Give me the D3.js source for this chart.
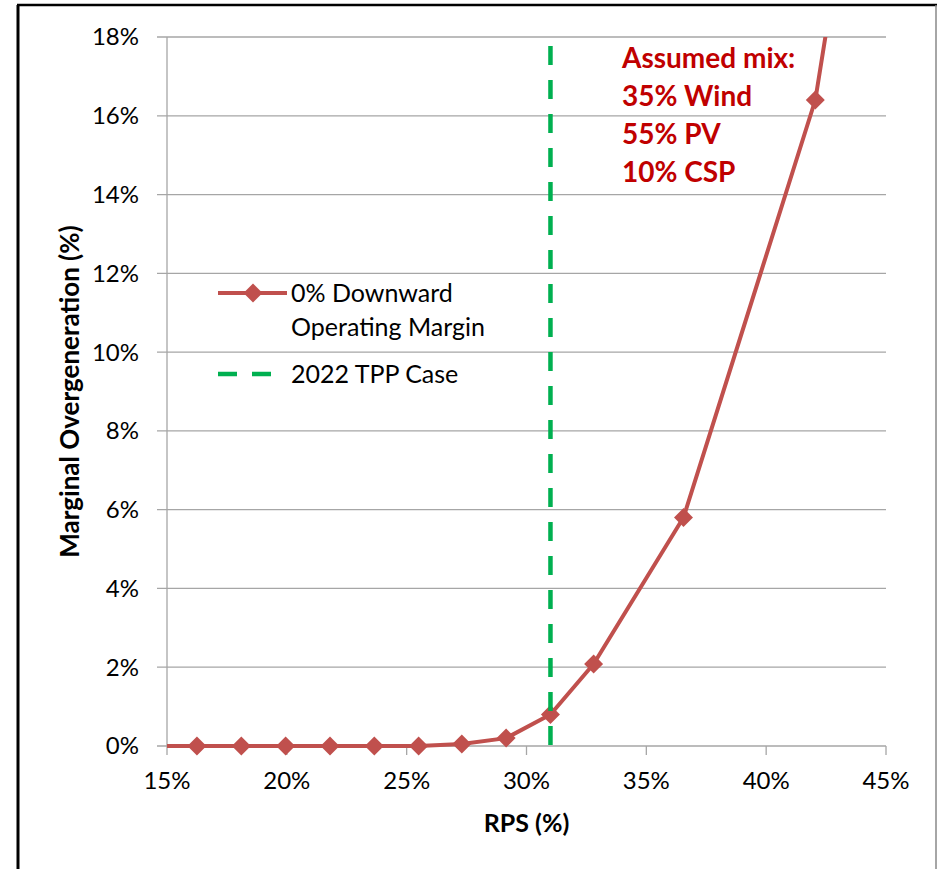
<!DOCTYPE html>
<html>
<head>
<meta charset="utf-8">
<script src="https://cdn.jsdelivr.net/npm/d3@7"></script>
<style>
  html, body { margin: 0; padding: 0; background: #fff; }
  svg { display: block; }
</style>
</head>
<body>
<script>
// ---- data ----
const rps = [16.25, 18.1, 19.95, 21.8, 23.65, 25.5, 27.3, 29.15, 31.0, 32.8, 36.55, 42.05];
const overgen = [0, 0, 0, 0, 0, 0, 0.05, 0.2, 0.8, 2.08, 5.8, 16.4];
// line-only continuation points (no markers), beyond the plotted range edges
const lineStart = [[15, 0]];
const lineEnd = [[43.6, 22.3]];
const tppCase = 31.0;
const xTicks = [15, 20, 25, 30, 35, 40, 45];
const yTicks = [0, 2, 4, 6, 8, 10, 12, 14, 16, 18];
const seriesName = ["0% Downward", "Operating Margin"];
const tppName = "2022 TPP Case";
const mixLines = ["Assumed mix:", "35% Wind", "55% PV", "10% CSP"];
const xTitle = "RPS (%)";
const yTitle = "Marginal Overgeneration (%)";

const W = 938, H = 869;
const font = "Lato, 'Open Sans', sans-serif";
const red = "#C0504D", green = "#00B050", grid = "#A6A6A6", annot = "#C00000";

const svg = d3.select("body").append("svg").attr("width", W).attr("height", H);

// frame
svg.append("rect").attr("x", 0).attr("y", 0).attr("width", W).attr("height", H).attr("fill", "#fff");
svg.append("line").attr("x1", 18).attr("x2", 18).attr("y1", 5).attr("y2", H).attr("stroke", "#000").attr("stroke-width", 3);
svg.append("line").attr("x1", 17).attr("x2", 937).attr("y1", 5).attr("y2", 5).attr("stroke", "#000").attr("stroke-width", 2.5);
svg.append("line").attr("x1", 936).attr("x2", 936).attr("y1", 5).attr("y2", H).attr("stroke", "#888").attr("stroke-width", 1.5);

const x = d3.scaleLinear().domain([15, 45]).range([167, 886]);
const y = d3.scaleLinear().domain([0, 18]).range([746, 37]);

// horizontal gridlines
svg.append("g").selectAll("line").data(yTicks).join("line")
  .attr("x1", 157).attr("x2", x(45))
  .attr("y1", d => y(d)).attr("y2", d => y(d))
  .attr("stroke", grid).attr("stroke-width", 1.3);

// y axis line
svg.append("line").attr("x1", x(15)).attr("x2", x(15)).attr("y1", y(18)).attr("y2", y(0))
  .attr("stroke", grid).attr("stroke-width", 1.3);

// x ticks
svg.append("g").selectAll("line").data(xTicks).join("line")
  .attr("x1", d => x(d)).attr("x2", d => x(d))
  .attr("y1", y(0)).attr("y2", y(0) + 9)
  .attr("stroke", grid).attr("stroke-width", 1.3);

// tick labels
svg.append("g").selectAll("text").data(yTicks).join("text")
  .attr("x", 139).attr("y", d => y(d)).attr("dy", "0.35em")
  .attr("text-anchor", "end").attr("font-family", font).attr("font-size", 24).attr("fill", "#000")
  .text(d => d + "%");
svg.append("g").selectAll("text").data(xTicks).join("text")
  .attr("x", d => x(d)).attr("y", 781).attr("dy", "0.35em")
  .attr("text-anchor", "middle").attr("font-family", font).attr("font-size", 24).attr("fill", "#000")
  .text(d => d + "%");

// axis titles
svg.append("text").attr("x", x(30)).attr("y", 823).attr("dy", "0.35em")
  .attr("text-anchor", "middle").attr("font-family", font).attr("font-weight", "bold")
  .attr("font-size", 25).text(xTitle);
svg.append("text").attr("transform", `translate(70,${y(9)}) rotate(-90)`).attr("dy", "0.35em")
  .attr("text-anchor", "middle").attr("font-family", font).attr("font-weight", "bold")
  .attr("font-size", 26).text(yTitle);

// clip to plot
svg.append("clipPath").attr("id", "plotclip").append("rect")
  .attr("x", x(15)).attr("y", y(18) ).attr("width", x(45) - x(15)).attr("height", y(0) - y(18) + 2);

// series line
const pts = lineStart.concat(rps.map((r, i) => [r, overgen[i]])).concat(lineEnd);
const line = d3.line().x(d => x(d[0])).y(d => y(d[1]));
svg.append("path").datum(pts).attr("d", line).attr("fill", "none")
  .attr("stroke", red).attr("stroke-width", 4).attr("stroke-linejoin", "round")
  .attr("clip-path", "url(#plotclip)");

// markers
const diamond = d3.symbol().type(d3.symbolDiamond2).size(230);
svg.append("g").selectAll("path").data(rps).join("path")
  .attr("transform", (d, i) => `translate(${x(d)},${y(overgen[i])})`)
  .attr("d", diamond).attr("fill", red);

// TPP case dashed line
svg.append("line").attr("x1", x(tppCase)).attr("x2", x(tppCase))
  .attr("y1", y(18) + 9).attr("y2", y(0))
  .attr("stroke", green).attr("stroke-width", 4.5).attr("stroke-dasharray", "19,15");

// legend
svg.append("line").attr("x1", 218).attr("x2", 287).attr("y1", 293).attr("y2", 293)
  .attr("stroke", red).attr("stroke-width", 4);
svg.append("path").attr("transform", "translate(253,293)").attr("d", diamond).attr("fill", red);
svg.append("text").attr("x", 291).attr("y", 293).attr("dy", "0.35em")
  .attr("font-family", font).attr("font-size", 25).text(seriesName[0]);
svg.append("text").attr("x", 291).attr("y", 327).attr("dy", "0.35em")
  .attr("font-family", font).attr("font-size", 25).text(seriesName[1]);
svg.append("line").attr("x1", 218).attr("x2", 272).attr("y1", 374).attr("y2", 374)
  .attr("stroke", green).attr("stroke-width", 4.5).attr("stroke-dasharray", "19,15");
svg.append("text").attr("x", 291).attr("y", 374).attr("dy", "0.35em")
  .attr("font-family", font).attr("font-size", 25).text(tppName);

// annotation
svg.append("g").selectAll("text").data(mixLines).join("text")
  .attr("x", 622).attr("y", (d, i) => 58 + i * 38).attr("dy", "0.35em")
  .attr("font-family", font).attr("font-weight", "bold").attr("font-size", 28)
  .attr("fill", annot).text(d => d);
</script>
</body>
</html>
